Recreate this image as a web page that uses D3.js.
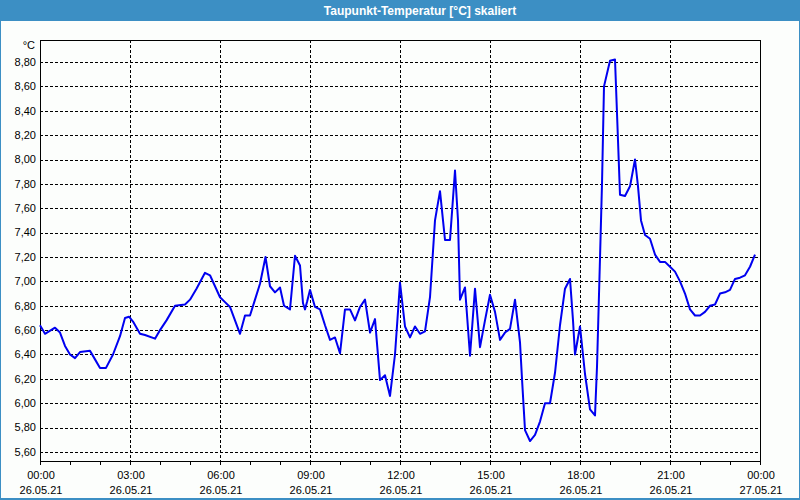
<!DOCTYPE html>
<html>
<head>
<meta charset="utf-8">
<script src="https://cdn.jsdelivr.net/npm/d3@7/dist/d3.min.js"></script>
<style>
html,body{margin:0;padding:0;background:#fcfefc;}
svg{display:block;}
text{font-family:"Liberation Sans",Arial,sans-serif;}
</style>
</head>
<body>
<svg id="chart" width="800" height="500"></svg>
<script>
// ---- data ----
const title = "Taupunkt-Temperatur [°C] skaliert";
const unitLabel = "°C";
// minutes since 26.05.21 00:00
const minutes = [0,10,30,40,50,60,70,80,100,110,120,132,146,160,170,178,186,200,210,230,240,253,270,290,300,313,330,340,350,360,370,380,390,400,410,420,430,440,451,460,470,480,488,500,510,520,526,530,534,540,550,560,570,580,590,600,610,620,630,640,650,660,670,680,690,700,710,720,730,740,750,760,770,780,790,800,810,820,830,836,840,850,860,870,880,890,900,910,920,930,940,950,960,964,970,980,990,1000,1010,1020,1030,1040,1050,1060,1066,1070,1080,1090,1100,1110,1114,1120,1124,1128,1140,1150,1154,1160,1170,1180,1190,1196,1202,1210,1220,1230,1240,1250,1260,1270,1280,1290,1300,1310,1320,1330,1340,1350,1360,1370,1380,1390,1400,1410,1420,1430];
const dewPoint = [6.64,6.57,6.62,6.58,6.47,6.40,6.37,6.42,6.43,6.36,6.29,6.29,6.40,6.55,6.70,6.71,6.67,6.57,6.56,6.53,6.60,6.68,6.80,6.81,6.85,6.94,7.07,7.05,6.96,6.87,6.83,6.79,6.68,6.57,6.72,6.72,6.85,6.98,7.20,6.96,6.91,6.95,6.80,6.77,7.21,7.13,6.82,6.77,6.83,6.93,6.79,6.77,6.64,6.52,6.54,6.41,6.77,6.77,6.68,6.79,6.85,6.58,6.69,6.19,6.23,6.06,6.40,6.99,6.63,6.54,6.63,6.57,6.59,6.87,7.50,7.74,7.34,7.34,7.91,7.50,6.85,6.95,6.39,6.94,6.46,6.68,6.89,6.75,6.52,6.58,6.61,6.85,6.50,6.20,5.78,5.69,5.74,5.85,6.00,6.00,6.25,6.64,6.94,7.02,6.68,6.40,6.63,6.24,5.95,5.90,6.30,7.19,7.80,8.60,8.81,8.82,8.38,7.71,7.70,7.78,8.00,7.78,7.50,7.38,7.35,7.22,7.16,7.16,7.12,7.08,7.00,6.90,6.77,6.72,6.72,6.75,6.80,6.81,6.90,6.91,6.93,7.02,7.03,7.05,7.12,7.22];
const yTicks = [5.6,5.8,6.0,6.2,6.4,6.6,6.8,7.0,7.2,7.4,7.6,7.8,8.0,8.2,8.4,8.6,8.8];
const xTickMinutes = [0,180,360,540,720,900,1080,1260,1440];
const xTickTimes = ["00:00","03:00","06:00","09:00","12:00","15:00","18:00","21:00","00:00"];
const xTickDates = ["26.05.21","26.05.21","26.05.21","26.05.21","26.05.21","26.05.21","26.05.21","26.05.21","27.05.21"];
const xMinorMinutes = d3.range(0, 1441, 60);

// ---- layout ----
const W = 800, H = 500;
const plotL = 40, plotR = 760, plotT = 40, plotB = 461;
const svg = d3.select("#chart");

// window frame
svg.append("rect").attr("x",0).attr("y",0).attr("width",W).attr("height",H).attr("fill","#3c8fc4");
svg.append("rect").attr("x",1).attr("y",21).attr("width",W-2).attr("height",H-23).attr("fill","#fcfefc");
svg.append("text").attr("x",420).attr("y",15).attr("text-anchor","middle")
  .attr("fill","#ffffff").attr("font-weight","bold").attr("font-size","12px").text(title);

const x = d3.scaleLinear().domain([0,1440]).range([plotL, plotR]);
const y = d3.scaleLinear().domain([5.6,8.8]).range([452,62]);

const fmt = v => v.toFixed(2).replace(".", ",");

// grid
const grid = svg.append("g").attr("stroke","#000").attr("stroke-width",1).attr("stroke-dasharray","3,2").attr("shape-rendering","crispEdges");
grid.selectAll("line.h").data(yTicks).join("line")
  .attr("x1",plotL).attr("x2",plotR).attr("y1",d=>Math.round(y(d))+0.5).attr("y2",d=>Math.round(y(d))+0.5);
grid.selectAll("line.v").data(xTickMinutes.slice(1,-1)).join("line")
  .attr("y1",plotT).attr("y2",plotB).attr("x1",d=>Math.round(x(d))+0.5).attr("x2",d=>Math.round(x(d))+0.5);

// frame
svg.append("rect").attr("x",plotL+0.5).attr("y",plotT+0.5).attr("width",plotR-plotL).attr("height",plotB-plotT)
  .attr("fill","none").attr("stroke","#000").attr("stroke-width",1).attr("shape-rendering","crispEdges");

// y labels
svg.append("g").selectAll("text").data(yTicks).join("text")
  .attr("x",36).attr("y",d=>y(d)).attr("dy","0.35em").attr("text-anchor","end")
  .attr("font-size","11px").attr("fill","#000").text(fmt);
svg.append("text").attr("x",35).attr("y",45).attr("dy","0.35em").attr("text-anchor","end")
  .attr("font-size","11px").attr("fill","#000").text(unitLabel);

// x minor ticks
svg.append("g").attr("stroke","#000").attr("shape-rendering","crispEdges").selectAll("line").data(xMinorMinutes).join("line")
  .attr("x1",d=>Math.round(x(d))+0.5).attr("x2",d=>Math.round(x(d))+0.5).attr("y1",plotB).attr("y2",plotB+4);

// x labels
const xl = svg.append("g").attr("font-size","11px").attr("fill","#000").attr("text-anchor","middle");
xl.selectAll("text.t").data(xTickMinutes).join("text").attr("class","t")
  .attr("x",d=>x(d)+1).attr("y",475).attr("dy","0.35em").text((d,i)=>xTickTimes[i]);
xl.selectAll("text.d").data(xTickMinutes).join("text").attr("class","d")
  .attr("x",d=>x(d)+1).attr("y",490).attr("dy","0.35em").text((d,i)=>xTickDates[i]);

// line
const line = d3.line().x((d,i)=>x(minutes[i])).y(d=>y(d));
svg.append("path").datum(dewPoint).attr("d",line)
  .attr("fill","none").attr("stroke","#0000f0").attr("stroke-width",2).attr("stroke-linejoin","round");
</script>
</body>
</html>
